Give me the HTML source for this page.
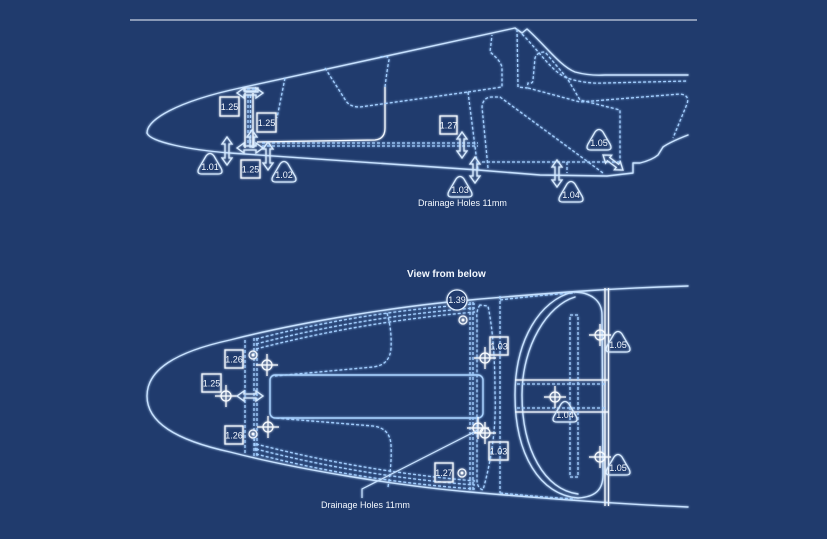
<!DOCTYPE html>
<html>
<head>
<meta charset="utf-8">
<style>
  html,body{margin:0;padding:0;background:#203b6d;}
  body{width:827px;height:539px;overflow:hidden;}
  svg{display:block;}
  .s{fill:none;stroke:#c6e1ff;stroke-width:1.4;stroke-linejoin:round;stroke-linecap:round;}
  .w{fill:none;stroke:#f2f8ff;stroke-width:1.3;}
  .d{fill:none;stroke:#a2ceff;stroke-width:1.3;stroke-dasharray:3 2;}
  .a{fill:none;stroke:#d6eaff;stroke-width:1.3;stroke-linejoin:miter;}
  .b{fill:none;stroke:#f2f8ff;stroke-width:1.3;}
  .t{fill:none;stroke:#d6eaff;stroke-width:1.3;}
  .x{fill:none;stroke:#f7fbff;stroke-width:1.2;}
  text{font-family:"Liberation Sans",sans-serif;fill:#f4f9ff;font-size:9px;}
  .c{text-anchor:middle;}
</style>
</head>
<body>
<svg width="827" height="539" viewBox="0 0 827 539" xmlns="http://www.w3.org/2000/svg">
  <defs>
    <filter id="g" x="-5%" y="-5%" width="110%" height="110%">
      <feGaussianBlur in="SourceGraphic" stdDeviation="1.1" result="bl"/>
      <feMerge><feMergeNode in="bl"/><feMergeNode in="SourceGraphic"/></feMerge>
    </filter>
  </defs>
  <rect width="827" height="539" fill="#203b6d"/>
  <!-- top rule -->
  <line x1="130" y1="20" x2="697" y2="20" stroke="#f0f6ff" stroke-width="1"/>

  <g filter="url(#g)">
  <!-- ================= SIDE VIEW ================= -->
  <path class="s" d="M147,133 C147,120 175,102 240,88 L515,28 L522,33 L527,29 C545,45 560,66 575,72 Q590,76 605,75 L688,75"/>
  <path class="d" d="M522,34 C540,52 552,72 567,78 Q585,84 605,83 L688,81"/>
  <path class="s" d="M147,133 C150,142 190,150 230,153 L478,170 L540,175 L607,176 L633,173 L633,163 L640,163 Q652,160 658,155 L663,147 Q670,142 688,135"/>
  <path class="w" d="M257,142 L375,140 Q385,139 385,128 L385,87"/>
  <path class="d" d="M385,87 Q387,70 389,60 Q389,55 380,57"/>
  <path class="d" d="M325,68 L346,101 Q350,107 360,107 L468,92"/>
  <path class="d" d="M285,78 L277,118"/>
  <path class="d" d="M262,143 L478,143"/>
  <path class="d" d="M262,146 L478,146"/>
  <path class="d" d="M468,92 L478,170"/>
  <path class="d" d="M468,92 L502,87 L502,67 Q500,60 490,52 L492,35"/>
  <path class="d" d="M517,29 L518,87 L527,88 L528,83 Q533,84 533,80 L535,58 Q537,52 545,52 L567,78 L580,100 L620,110 L620,163"/>
  <path class="d" d="M528,88 L580,102 L680,94 Q690,95 687,104 L673,138"/>
  <path class="d" d="M488,168 L482,107 Q483,97 492,97 L500,97 L603,173"/>
  <path class="d" d="M482,162 L620,162"/>
  <path class="d" d="M567,162 L567,173"/>
  <path class="w" d="M245,93 L245,148 M253,93 L253,148"/>
  <path class="d" d="M248,95 L248,146 M250.5,95 L250.5,146"/>
  <path class="a" d="M245,88 L258,88 L258,92 L245,92 Z"/>
  <path class="d" d="M247,89 L256,89"/>
  <path class="a" d="M237,93 L244,88 L244,91 L256,91 L256,88 L263,93 L256,98 L256,95 L244,95 L244,98 Z"/>
  <path class="a" d="M237,148 L244,143 L244,146 L256,146 L256,143 L263,148 L256,153 L256,150 L244,150 L244,153 Z"/>
  <path class="a" d="M227,137 L232,144 L229,144 L229,158 L232,158 L227,165 L222,158 L225,158 L225,144 L222,144 Z"/>
  <path class="a" d="M268,142 L273,149 L270,149 L270,163 L273,163 L268,170 L263,163 L266,163 L266,149 L263,149 Z"/>
  <path class="a" d="M252,130 L257,137 L254,137 L254,147 L250,147 L250,137 L247,137 Z"/>
  <path class="a" d="M462,132 L467,139 L464,139 L464,151 L467,151 L462,158 L457,151 L460,151 L460,139 L457,139 Z"/>
  <path class="a" d="M475,157 L480,164 L477,164 L477,176 L480,176 L475,183 L470,176 L473,176 L473,164 L470,164 Z"/>
  <path class="a" d="M557,160 L562,167 L559,167 L559,180 L562,180 L557,187 L552,180 L555,180 L555,167 L552,167 Z"/>
  <path class="a" transform="translate(613,162.5) rotate(37)" d="M-12.5,0 L-5.5,-5 L-5.5,-2 L5.5,-2 L5.5,-5 L12.5,0 L5.5,5 L5.5,2 L-5.5,2 L-5.5,5 Z"/>
  <rect class="b" x="220" y="97" width="19" height="19"/>
  <rect class="b" x="257" y="113" width="19" height="19"/>
  <rect class="b" x="241" y="160" width="19" height="18"/>
  <rect class="b" x="440" y="116" width="17" height="18"/>
  <path class="t" d="M206,156 Q210,151 214,156 L221,168 Q224,174 218,174 L202,174 Q196,174 199,168 Z"/>
  <path class="t" d="M280,164 Q284,159 288,164 L295,176 Q298,182 292,182 L276,182 Q270,182 273,176 Z"/>
  <path class="t" d="M456,179 Q460,174 464,179 L471,191 Q474,197 468,197 L452,197 Q446,197 449,191 Z"/>
  <path class="t" d="M567,184 Q571,179 575,184 L582,196 Q585,202 579,202 L563,202 Q557,202 560,196 Z"/>
  <path class="t" d="M595,132 Q599,127 603,132 L610,144 Q613,150 607,150 L591,150 Q585,150 588,144 Z"/>

  <!-- ================= VIEW FROM BELOW ================= -->
  <path class="s" d="M688,286 C620,288 560,292 470,300 C400,306 300,322 230,340 C175,352 147,370 147,396 C147,422 175,440 230,452 C300,470 400,486 470,492 C560,500 620,504 688,507"/>
  <path class="d" d="M256,339 Q360,312 475,304"/>
  <path class="d" d="M256,344 Q360,317 475,308"/>
  <path class="d" d="M256,349 Q360,322 475,312"/>
  <path class="d" d="M256,454 Q360,481 475,489"/>
  <path class="d" d="M256,449 Q360,476 475,485"/>
  <path class="d" d="M256,444 Q360,471 475,481"/>
  <path class="d" d="M500,300 Q540,295 575,293"/>
  <path class="d" d="M500,493 Q540,497 575,499"/>
  <path class="d" d="M245,340 L245,453"/>
  <path class="d" d="M254,338 L254,456"/>
  <path class="d" d="M257,338 L257,456"/>
  <path class="d" d="M387,313 Q392,330 391,348 Q390,365 373,367 L275,376"/>
  <path class="d" d="M388,487 Q392,463 391,445 Q390,428 373,426 L275,418"/>
  <rect x="270" y="375" width="213" height="43" rx="5" fill="none" stroke="#a8d2ff" stroke-width="1.4"/>
  <path class="d" d="M470,302 L470,490"/>
  <path class="d" d="M473,302 L473,490"/>
  <path class="d" d="M500,296 L500,493"/>
  <path class="d" d="M480,305 Q476,310 477,320 L477,480 Q477,488 483,490 Q497,440 495,393 Q495,340 488,306 Z"/>
  <path class="s" d="M573,292 C540,300 515,340 515,395 C515,455 540,495 578,498 C595,497 603,490 603,475 L602,315 C602,300 590,292 573,292 Z"/>
  <path class="s" d="M575,297 C548,305 522,345 522,395 C522,450 545,490 578,494"/>
  <path class="w" d="M605,288 L605,506 M608.5,288 L608.5,506"/>
  <path class="w" d="M515,380 L608,380 M515,412 L608,412"/>
  <path class="d" d="M517,384 L606,384 M517,408 L606,408"/>
  <rect class="d" x="570" y="315" width="8" height="162"/>
  <g class="x">
    <circle cx="226" cy="396" r="5"/><path d="M215,396 H237 M226,385 V407"/>
    <circle cx="267" cy="365" r="5"/><path d="M256,365 H278 M267,354 V376"/>
    <circle cx="268" cy="427" r="5"/><path d="M257,427 H279 M268,416 V438"/>
    <circle cx="485" cy="358" r="5"/><path d="M474,358 H496 M485,347 V369"/>
    <circle cx="478" cy="428" r="5"/><path d="M467,428 H489 M478,417 V439"/>
    <circle cx="485" cy="433" r="5"/><path d="M474,433 H496 M485,422 V444"/>
    <circle cx="600" cy="335" r="5"/><path d="M589,335 H611 M600,324 V346"/>
    <circle cx="555" cy="397" r="5"/><path d="M544,397 H566 M555,386 V408"/>
    <circle cx="600" cy="457" r="5"/><path d="M589,457 H611 M600,446 V468"/>
  </g>
  <g fill="none" stroke="#f2f8ff" stroke-width="1.2">
    <circle cx="253" cy="355" r="4"/><circle cx="253" cy="434" r="4"/>
    <circle cx="463" cy="320" r="4"/><circle cx="462" cy="473" r="4"/>
  </g>
  <g fill="#f7fbff">
    <circle cx="253" cy="355" r="1.5"/><circle cx="253" cy="434" r="1.5"/>
    <circle cx="463" cy="320" r="1.5"/><circle cx="462" cy="473" r="1.5"/>
  </g>
  <path class="d" d="M254,438 L256,452"/>
  <path class="a" d="M237,396 L244,391 L244,394 L256,394 L256,391 L263,396 L256,401 L256,398 L244,398 L244,401 Z"/>
  <circle cx="457" cy="300" r="10" fill="#203b6d" stroke="#e2efff" stroke-width="1.3"/>
  <rect class="b" x="225" y="350" width="18" height="18"/>
  <rect class="b" x="225" y="426" width="18" height="18"/>
  <rect class="b" x="202" y="374" width="19" height="18"/>
  <rect class="b" x="490" y="337" width="18" height="18"/>
  <rect class="b" x="489" y="442" width="19" height="18"/>
  <rect class="b" x="435" y="463" width="18" height="19"/>
  <path class="t" fill="#203b6d" d="M614,334 Q618,329 622,334 L629,346 Q632,352 626,352 L610,352 Q604,352 607,346 Z"/>
  <path class="t" fill="#203b6d" d="M561,404 Q565,399 569,404 L576,416 Q579,422 573,422 L557,422 Q551,422 554,416 Z"/>
  <path class="t" fill="#203b6d" d="M614,457 Q618,452 622,457 L629,469 Q632,475 626,475 L610,475 Q604,475 607,469 Z"/>
  <path fill="none" stroke="#c6e1ff" stroke-width="1.2" d="M478,430 L362,489 L362,498"/>
  </g>

  <!-- texts (unfiltered, on top) -->
  <text class="c" x="229.5" y="110">1.25</text>
  <text class="c" x="266.5" y="126">1.25</text>
  <text class="c" x="250.5" y="172.5">1.25</text>
  <text class="c" x="448.5" y="128.5">1.27</text>
  <text class="c" x="210" y="170">1.01</text>
  <text class="c" x="284" y="178">1.02</text>
  <text class="c" x="460" y="193">1.03</text>
  <text class="c" x="571" y="198">1.04</text>
  <text class="c" x="599" y="146">1.05</text>
  <text x="418" y="206">Drainage Holes 11mm</text>

  <text x="407" y="277" style="font-weight:bold;font-size:10px;">View from below</text>
  <text class="c" x="457" y="303">1.39</text>
  <text class="c" x="234" y="362.5">1.26</text>
  <text class="c" x="234" y="438.5">1.26</text>
  <text class="c" x="211.5" y="386.5">1.25</text>
  <text class="c" x="499" y="349.5">1.03</text>
  <text class="c" x="498.5" y="454.5">1.03</text>
  <text class="c" x="444" y="476">1.27</text>
  <text class="c" x="618" y="348">1.05</text>
  <text class="c" x="565" y="418">1.04</text>
  <text class="c" x="618" y="471">1.05</text>
  <text x="321" y="508">Drainage Holes 11mm</text>
</svg>
</body>
</html>
